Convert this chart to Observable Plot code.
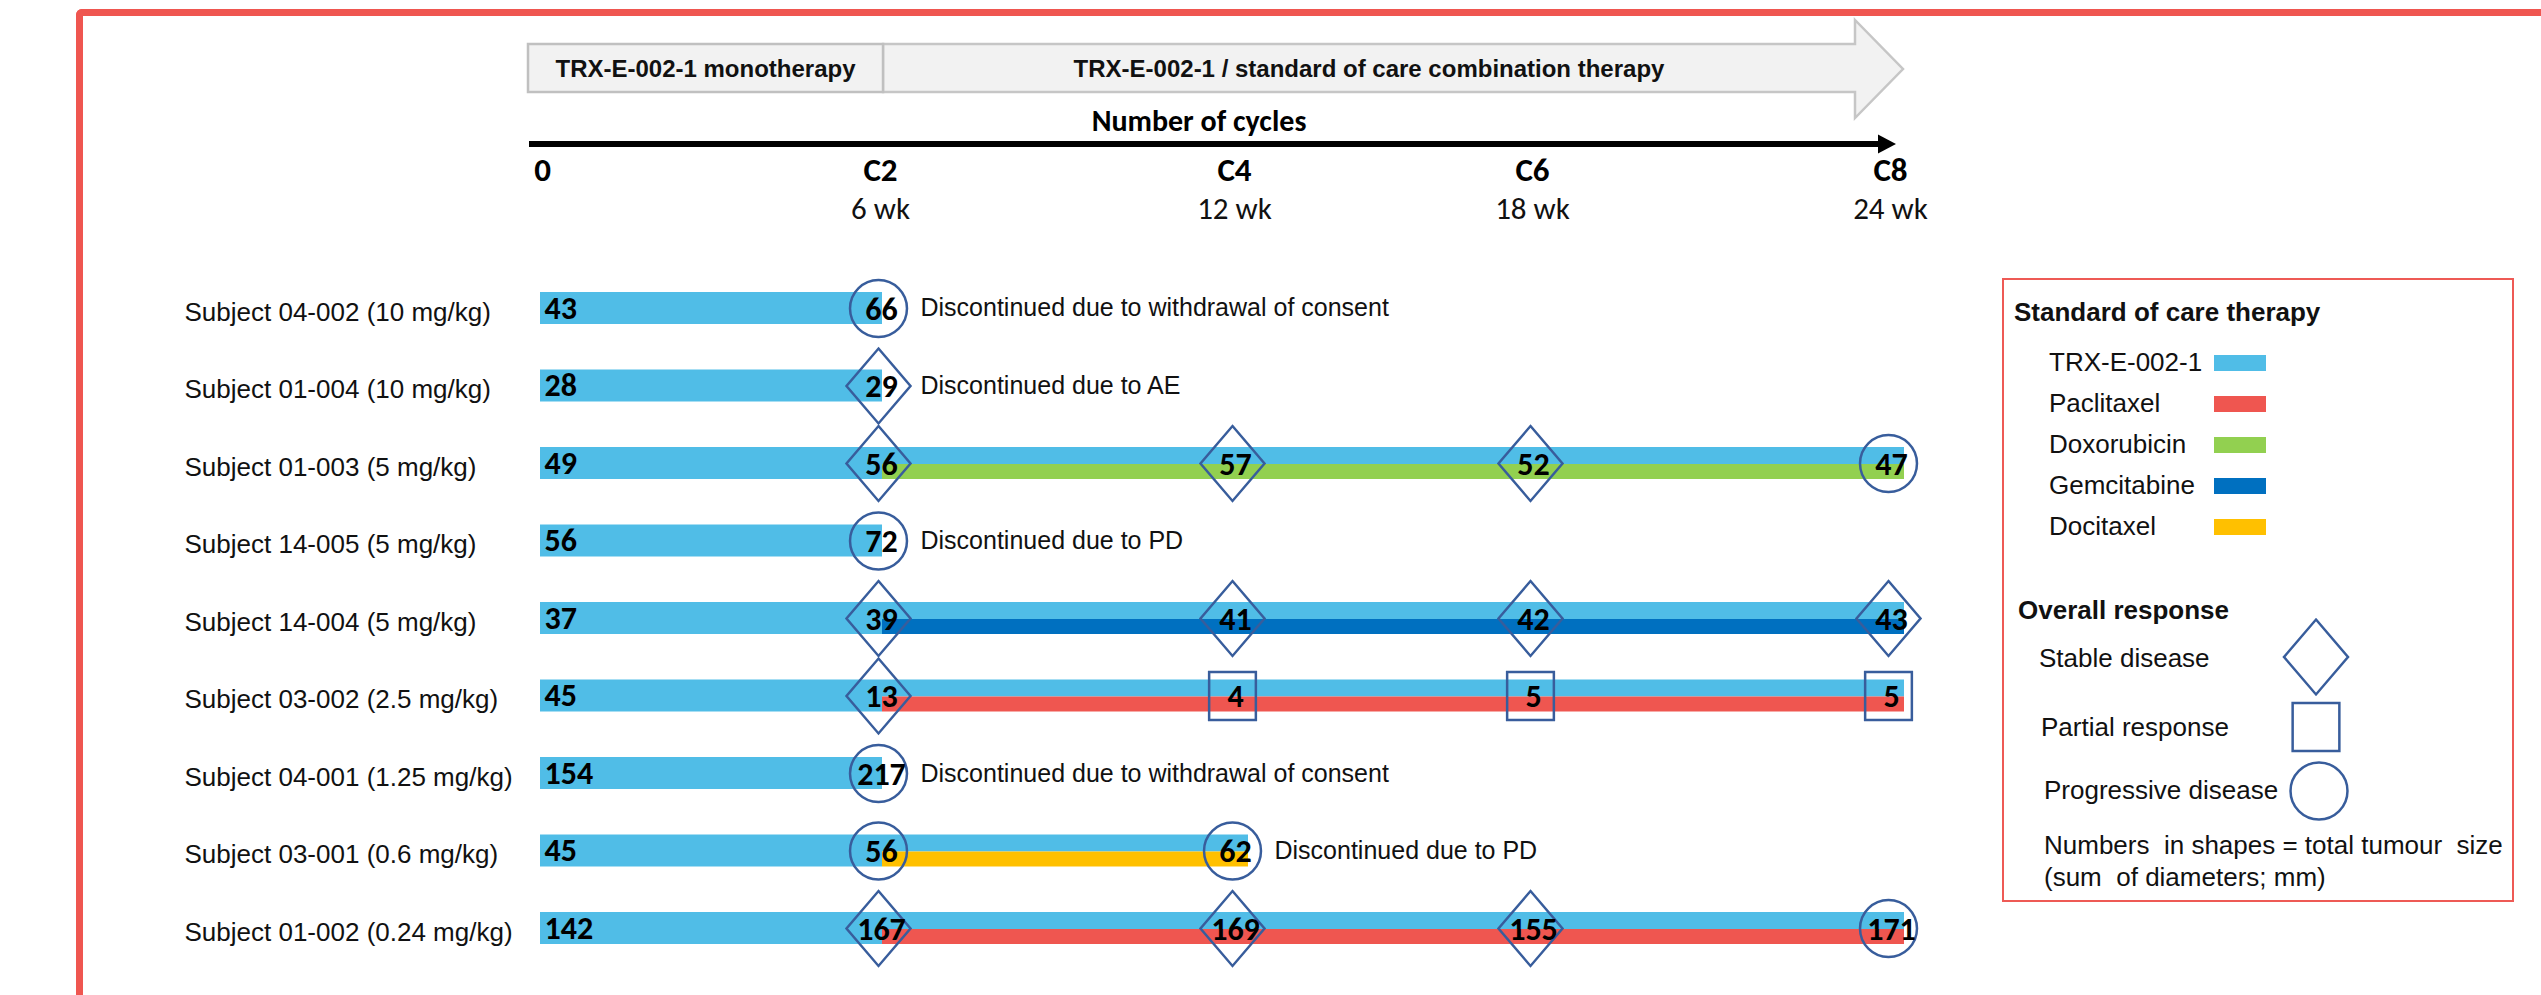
<!DOCTYPE html>
<html>
<head>
<meta charset="utf-8">
<script src="https://cdn.jsdelivr.net/npm/d3@7"></script>
<script src="https://cdn.jsdelivr.net/npm/@observablehq/plot@0.6"></script>
<style>
html, body { margin: 0; padding: 0; background: #fff; width: 2541px; height: 995px; overflow: hidden; }
#wrap { position: relative; width: 2541px; height: 995px; overflow: hidden; }
#frame { position: absolute; left: 76px; top: 9px; width: 3000px; height: 1200px; border-left: 7px solid #EF5650; border-top: 7px solid #EF5650; border-top-left-radius: 6px; box-sizing: border-box; }
#chart { position: absolute; left: 0; top: 0; }
#legend { position: absolute; left: 2002px; top: 278px; width: 512px; height: 624px; border: 2px solid #EE5A55; box-sizing: border-box; font-family: "Liberation Sans", Arial, sans-serif; color: #111; background: #fff; }
.lg { position: absolute; white-space: pre; font-size: 26px; line-height: 1; transform: translateY(-50%); }
.lgb { font-weight: bold; }
.sw { position: absolute; width: 52px; height: 16px; }
#legend svg { position: absolute; left: 0; top: 0; }
</style>
</head>
<body>
<div id="wrap">
  <div id="frame"></div>
  <div id="chart"></div>
  <div id="legend"></div>
</div>
<script>
// ---------- data ----------
const subjects = [
  "Subject 04-002 (10 mg/kg)",
  "Subject 01-004 (10 mg/kg)",
  "Subject 01-003 (5 mg/kg)",
  "Subject 14-005 (5 mg/kg)",
  "Subject 14-004 (5 mg/kg)",
  "Subject 03-002 (2.5 mg/kg)",
  "Subject 04-001 (1.25 mg/kg)",
  "Subject 03-001 (0.6 mg/kg)",
  "Subject 01-002 (0.24 mg/kg)"
];
const baselineSize = [43, 28, 49, 56, 37, 45, 154, 45, 142];
const socDrug = [null, null, "Doxorubicin", null, "Gemcitabine", "Paclitaxel", null, "Docitaxel", "Paclitaxel"];
const socEndWeek = [null, null, 24, null, 24, 24, null, 12, 24];
const discReason = [
  "Discontinued due to withdrawal of consent",
  "Discontinued due to AE",
  null,
  "Discontinued due to PD",
  null,
  null,
  "Discontinued due to withdrawal of consent",
  "Discontinued due to PD",
  null
];
const discWeek = [6, 6, null, 6, null, null, 6, 12, null];

const visitSubject  = [0, 1, 2, 2, 2, 2, 3, 4, 4, 4, 4, 5, 5, 5, 5, 6, 7, 7, 8, 8, 8, 8];
const visitWeek     = [6, 6, 6, 12, 18, 24, 6, 6, 12, 18, 24, 6, 12, 18, 24, 6, 6, 12, 6, 12, 18, 24];
const visitSize     = [66, 29, 56, 57, 52, 47, 72, 39, 41, 42, 43, 13, 4, 5, 5, 217, 56, 62, 167, 169, 155, 171];
const visitResponse = ["PD","SD","SD","SD","SD","PD","PD","SD","SD","SD","SD","SD","PR","PR","PR","PD","PD","PD","SD","SD","SD","PD"];

const cycleWeeks  = [0, 6, 12, 18, 24];
const cycleLabels = ["0", "C2", "C4", "C6", "C8"];
const weekLabels  = ["", "6 wk", "12 wk", "18 wk", "24 wk"];

const drugNames  = ["TRX-E-002-1", "Paclitaxel", "Doxorubicin", "Gemcitabine", "Docitaxel"];
const drugColors = ["#50BDE7", "#EF5650", "#92D050", "#0070C0", "#FFC000"];

const responseCodes  = ["SD", "PR", "PD"];
const responseLabels = ["Stable disease", "Partial response", "Progressive disease"];

const phaseLabels = ["TRX-E-002-1 monotherapy", "TRX-E-002-1 / standard of care combination therapy"];
const phaseStart  = [0, 6];
const phaseEnd    = [6, 24];
const axisTitle   = "Number of cycles";

const legendTitle1 = "Standard of care therapy";
const legendTitle2 = "Overall response";
const legendNote   = ["Numbers  in shapes = total tumour  size", "(sum  of diameters; mm)"];

// ---------- symbols ----------
const diamondSym = { draw(ctx, size) { const r = Math.sqrt(size / Math.PI); const h = r * 1.17;
  ctx.moveTo(0, -h); ctx.lineTo(r, 0); ctx.lineTo(0, h); ctx.lineTo(-r, 0); ctx.closePath(); } };
const squareSym = { draw(ctx, size) { const r = Math.sqrt(size / Math.PI); const w = r * 0.73, h = r * 0.75;
  ctx.moveTo(-w, -h); ctx.lineTo(w, -h); ctx.lineTo(w, h); ctx.lineTo(-w, h); ctx.closePath(); } };
const circleSym = { draw(ctx, size) { const r = Math.sqrt(size / Math.PI) * 0.89;
  ctx.moveTo(r, 0); ctx.arc(0, 0, r, 0, 2 * Math.PI); ctx.closePath(); } };
const symbolsByCode = [diamondSym, squareSym, circleSym];

// ---------- tables ----------
const TRX = drugNames[0];
const rows = subjects.map((s, i) => ({
  subject: s, baseline: baselineSize[i], drug: socDrug[i], end: socEndWeek[i],
  reason: discReason[i], discWeek: discWeek[i],
  monoStart: phaseStart[0], monoEnd: phaseEnd[0]
}));
const combos = rows.filter(r => r.drug);
const discs = rows.filter(r => r.reason);
const visits = visitWeek.map((w, i) => ({
  subject: subjects[visitSubject[i]], week: w, size: visitSize[i], response: visitResponse[i]
}));
const ticks = cycleWeeks.map((w, i) => ({ week: w, cycle: cycleLabels[i], wk: weekLabels[i] }));

const ARIAL = "'Liberation Sans', Arial, sans-serif";
const CALIBRI = "Carlito, Lato, 'Open Sans', sans-serif";
const MARKER = "#385D9C";

const plot = Plot.plot({
  width: 2541,
  height: 995,
  marginTop: 0, marginRight: 0, marginBottom: 0, marginLeft: 0,
  style: { background: "transparent", overflow: "visible" },
  x: { type: "linear", domain: cycleWeeks, range: [540, 878, 1232, 1530, 1888], axis: null },
  y: { type: "band", domain: subjects, range: [253.25, 982.75], paddingInner: 0.5871, paddingOuter: 0.5, round: false, axis: null },
  color: { domain: drugNames, range: drugColors },
  symbol: { domain: responseCodes, range: symbolsByCode },
  marks: [
    // monotherapy bars
    Plot.barX(rows, { x1: "monoStart", x2: "monoEnd", y: "subject", fill: () => TRX, insetRight: -4 }),
    // combination: TRX half (top) + SOC half (bottom)
    Plot.barX(combos, { x1: "monoEnd", x2: "end", y: "subject", fill: () => TRX, insetLeft: 4, insetRight: -16, insetBottom: 15 }),
    Plot.barX(combos, { x1: "monoEnd", x2: "end", y: "subject", fill: "drug", insetLeft: 4, insetRight: -16, insetTop: 17 }),
    // response markers
    Plot.dot(visits, { x: "week", y: "subject", symbol: "response", r: 32, fill: "none", stroke: MARKER, strokeWidth: 2.5 }),
    // tumour sizes
    Plot.text(visits, { x: "week", y: "subject", text: "size", fontFamily: CALIBRI, fontWeight: "bold", fontSize: 32, fill: "#000", dx: 3, dy: 1 }),
    Plot.text(rows, { x: "monoStart", y: "subject", text: "baseline", textAnchor: "start", dx: 4, fontFamily: CALIBRI, fontWeight: "bold", fontSize: 32, fill: "#000" }),
    // subject labels
    Plot.text(rows, { y: "subject", text: "subject", frameAnchor: "left", lineAnchor: "middle", dx: 184, dy: 4, textAnchor: "start", fontFamily: ARIAL, fontSize: 26, fill: "#111" }),
    // discontinuation notes
    Plot.text(discs, { x: "discWeek", y: "subject", text: "reason", textAnchor: "start", dx: 42, fontFamily: ARIAL, fontSize: 25, fill: "#111" }),
    // cycle / week tick labels
    Plot.text(ticks, { x: "week", text: "cycle", frameAnchor: "top", lineAnchor: "middle", dy: 170, dx: 2, fontFamily: CALIBRI, fontWeight: "bold", fontSize: 33, fill: "#000" }),
    Plot.text(ticks, { x: "week", text: "wk", frameAnchor: "top", lineAnchor: "middle", dy: 209, dx: 2, fontFamily: CALIBRI, fontSize: 31, fill: "#111" })
  ]
});

const svgEl = plot.tagName.toLowerCase() === "svg" ? plot : plot.querySelector("svg");
document.getElementById("chart").appendChild(plot);

// ---------- header (phases + cycle axis), positioned with the plot's x scale ----------
const sx = plot.scale("x").apply;
const svg = d3.select(svgEl);
const g = svg.append("g");
const xa = sx(phaseStart[0]) - 12, xb = sx(phaseEnd[0]) + 5, xe = sx(phaseEnd[1]);
const headBase = xe - 33, tip = xe + 15;
g.append("path")
  .attr("d", `M${xb},44H${headBase}V20L${tip},69L${headBase},118V92H${xb}Z`)
  .attr("fill", "#F2F2F2").attr("stroke", "#C6C6C6").attr("stroke-width", 2.5).attr("stroke-linejoin", "miter");
g.append("rect")
  .attr("x", xa).attr("y", 44).attr("width", xb - xa).attr("height", 48)
  .attr("fill", "#F2F2F2").attr("stroke", "#C0C0C0").attr("stroke-width", 2.5);
g.append("text").attr("x", (xa + xb) / 2).attr("y", 69).attr("dy", "0.35em")
  .attr("text-anchor", "middle").attr("font-family", ARIAL).attr("font-weight", "bold").attr("font-size", 24).attr("fill", "#111")
  .text(phaseLabels[0]);
g.append("text").attr("x", (xb + headBase) / 2).attr("y", 69).attr("dy", "0.35em")
  .attr("text-anchor", "middle").attr("font-family", ARIAL).attr("font-weight", "bold").attr("font-size", 24).attr("fill", "#111")
  .text(phaseLabels[1]);
g.append("text").attr("x", sx(12) - 33).attr("y", 120).attr("dy", "0.35em")
  .attr("text-anchor", "middle").attr("font-family", CALIBRI).attr("font-weight", "bold").attr("font-size", 30).attr("fill", "#000")
  .text(axisTitle);
const ax0 = sx(cycleWeeks[0]) - 11, ax1 = sx(cycleWeeks[cycleWeeks.length - 1]) + 8;
g.append("line").attr("x1", ax0).attr("x2", ax1 - 14).attr("y1", 144).attr("y2", 144)
  .attr("stroke", "#000").attr("stroke-width", 6);
g.append("path").attr("d", `M${ax1 - 18},134.5L${ax1},144L${ax1 - 18},153.5Z`).attr("fill", "#000");

// ---------- legend ----------
const legend = document.getElementById("legend");
function addText(txt, left, cy, bold) {
  const d = document.createElement("div");
  d.className = "lg" + (bold ? " lgb" : "");
  d.style.left = left + "px"; d.style.top = cy + "px";
  d.textContent = txt;
  legend.appendChild(d);
}
addText(legendTitle1, 10, 32, true);
drugNames.forEach((name, i) => {
  const cy = 82 + 41 * i;
  addText(name, 45, cy, false);
  const sw = document.createElement("div");
  sw.className = "sw";
  sw.style.left = "210px"; sw.style.top = (cy - 7) + "px";
  sw.style.background = drugColors[i];
  legend.appendChild(sw);
});
addText(legendTitle2, 14, 330, true);
const respText = [[35, 378], [37, 447], [40, 510]];
const respSym = [[312, 377], [312, 447], [315, 511]];
const lsvg = d3.select(legend).append("svg").attr("width", 508).attr("height", 620);
responseLabels.forEach((lab, i) => {
  addText(lab, respText[i][0], respText[i][1], false);
  const p = d3.path();
  symbolsByCode[i].draw(p, 32 * 32 * Math.PI);
  lsvg.append("path").attr("d", p.toString())
    .attr("transform", `translate(${respSym[i][0]},${respSym[i][1]})`)
    .attr("fill", "none").attr("stroke", MARKER).attr("stroke-width", 2.5);
});
addText(legendNote[0], 40, 565, false);
addText(legendNote[1], 40, 597, false);
</script>
</body>
</html>
